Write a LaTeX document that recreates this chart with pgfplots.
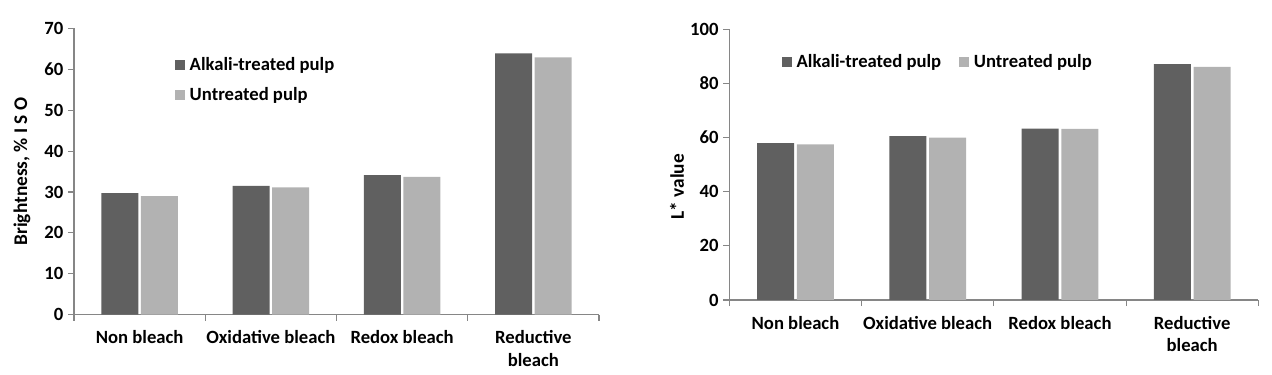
\documentclass[border=0pt]{standalone}
\usepackage{fontspec}
\setmainfont{Carlito}
\usepackage{pgfplots}
\usepackage{pgfplotstable}
\pgfplotsset{compat=1.18}
\definecolor{darkbar}{HTML}{606060}
\definecolor{lightbar}{HTML}{B2B2B2}
\definecolor{axgray}{HTML}{868686}

\pgfplotstableread{
x a u
0 29.7 29.0
1 31.5 31.1
2 34.1 33.7
3 63.9 62.9
}\leftdata

\pgfplotstableread{
x a u
0 58.0 57.5
1 60.5 60.0
2 63.3 63.2
3 87.1 86.1
}\rightdata

\pgfplotsset{
  excelbar/.style={
    scale only axis,
    ybar, bar width=27.75pt,
    ymin=0,
    xmin=-0.5, xmax=3.5,
    axis x line*=bottom, axis y line*=left,
    axis line style={axgray, line width=0.8pt},
    tick style={axgray, line width=0.8pt},
    tick align=outside,
    major tick length=4.5pt,
    xtick={-0.5,0.5,1.5,2.5,3.5},
    x tick label as interval,
    xticklabels={Non bleach,Oxidative bleach,Redox bleach,{Reductive\\bleach}},
    xticklabel style={align=center, font=\bfseries\fontsize{14}{17}\selectfont, text=black, yshift=-4pt},
    yticklabel style={font=\bfseries\fontsize{14}{16}\selectfont, text=black},
    /pgf/number format/assume math mode=true,
    ylabel style={font=\bfseries\fontsize{14.5}{16}\selectfont, anchor=center},
    legend cell align=left,
    legend image code/.code={\fill[##1] (0pt,-3.75pt) rectangle (7.5pt,3.75pt);},
    legend style={draw=none, fill=none, font=\bfseries\fontsize{14}{16}\selectfont,
      anchor=north west, inner sep=0pt, nodes={inner sep=0pt},
      /tikz/column 1/.style={column sep=3.5pt},
      /tikz/column 3/.style={column sep=3.5pt}},
  }
}

\begin{document}
\begin{tikzpicture}
\path[use as bounding box] (0,0) rectangle (954pt,281.25pt);

\begin{axis}[excelbar,
  at={(55.5pt,45.2pt)}, anchor=south west,
  width=393.75pt, height=214.8pt,
  ymax=70, ytick={0,10,...,70},
  ylabel={Brightness, \% I S O},
  ylabel style={at={(axis description cs:-0.099,0.5)}},
  legend style={at={(0.192,0.90)}, row sep=11.5pt},
]
\addplot[fill=darkbar, draw=none] table[x=x, y=a] {\leftdata};
\addplot[fill=lightbar, draw=none] table[x=x, y=u] {\leftdata};
\legend{Alkali-treated pulp, Untreated pulp}
\end{axis}

\begin{axis}[excelbar,
  at={(547pt,56.25pt)}, anchor=south west,
  width=396.75pt, height=203pt,
  ymax=100, ytick={0,20,...,100},
  ylabel={L* value},
  ylabel style={at={(axis description cs:-0.099,0.4185)}},
  legend columns=2,
  legend style={at={(0.099,0.907)}, /tikz/column 2/.style={column sep=13.5pt}},
]
\addplot[fill=darkbar, draw=none] table[x=x, y=a] {\rightdata};
\addplot[fill=lightbar, draw=none] table[x=x, y=u] {\rightdata};
\legend{Alkali-treated pulp, Untreated pulp}
\end{axis}
\end{tikzpicture}
\end{document}
